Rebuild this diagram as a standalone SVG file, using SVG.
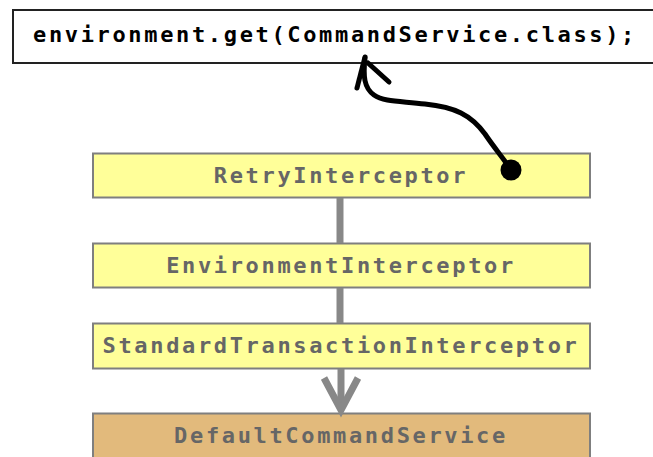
<svg xmlns="http://www.w3.org/2000/svg" width="653" height="457" viewBox="0 0 653 457">
  <style>
    .box { stroke: #7f7f7f; stroke-width: 2; }
    .chain { fill: #ffff99; }
    .service { fill: #e2ba7c; }
    .label { font-family: "DejaVu Sans Mono", "Liberation Mono", monospace; font-weight: bold; font-size: 22px; letter-spacing: 2.65px; fill: #666666; text-anchor: middle; }
    .code { fill: #000000; text-anchor: start; }
    .link { stroke: #888888; stroke-width: 7; fill: none; }
    .ink { stroke: #000000; stroke-width: 5; fill: none; stroke-linecap: round; stroke-linejoin: round; }
  </style>

  <!-- lookup call -->
  <g id="lookup">
    <rect x="13" y="10" width="660" height="53" fill="#ffffff" stroke="#222222" stroke-width="2"/>
    <text class="label code" x="33" y="42">environment.get(CommandService.class);</text>
  </g>

  <!-- interceptor chain -->
  <g id="retry">
    <rect class="box chain" x="93" y="153.5" width="497" height="44"/>
    <text class="label" x="341" y="183">RetryInterceptor</text>
  </g>
  <g id="environment">
    <rect class="box chain" x="93" y="243.5" width="497" height="44"/>
    <text class="label" x="341" y="273">EnvironmentInterceptor</text>
  </g>
  <g id="transaction">
    <rect class="box chain" x="93" y="323.5" width="497" height="45"/>
    <text class="label" x="341" y="353">StandardTransactionInterceptor</text>
  </g>
  <g id="service">
    <rect class="box service" x="93" y="413.5" width="497" height="60"/>
    <text class="label" x="341" y="443">DefaultCommandService</text>
  </g>

  <g id="connectors">
    <!-- chain links -->
    <line class="link" x1="340" y1="198" x2="340" y2="243"/>
    <line class="link" x1="340" y1="288" x2="340" y2="323"/>
    <line class="link" x1="341" y1="369" x2="341" y2="408"/>
    <polyline class="link" points="324,378 341,410 358,378" stroke-linejoin="miter"/>

    <!-- hand-drawn call arrow -->
    <path class="ink" d="M365,58 C363,76 364,88 374,95 C384,102 400,101 425,104 C455,107 471,115 485,134 C495,149 505,160 511,170"/>
    <path class="ink" d="M365,57 L357,88"/>
    <path class="ink" d="M368,63 L389,82"/>
    <circle cx="511" cy="170" r="10.5" fill="#000000"/>
  </g>
</svg>
